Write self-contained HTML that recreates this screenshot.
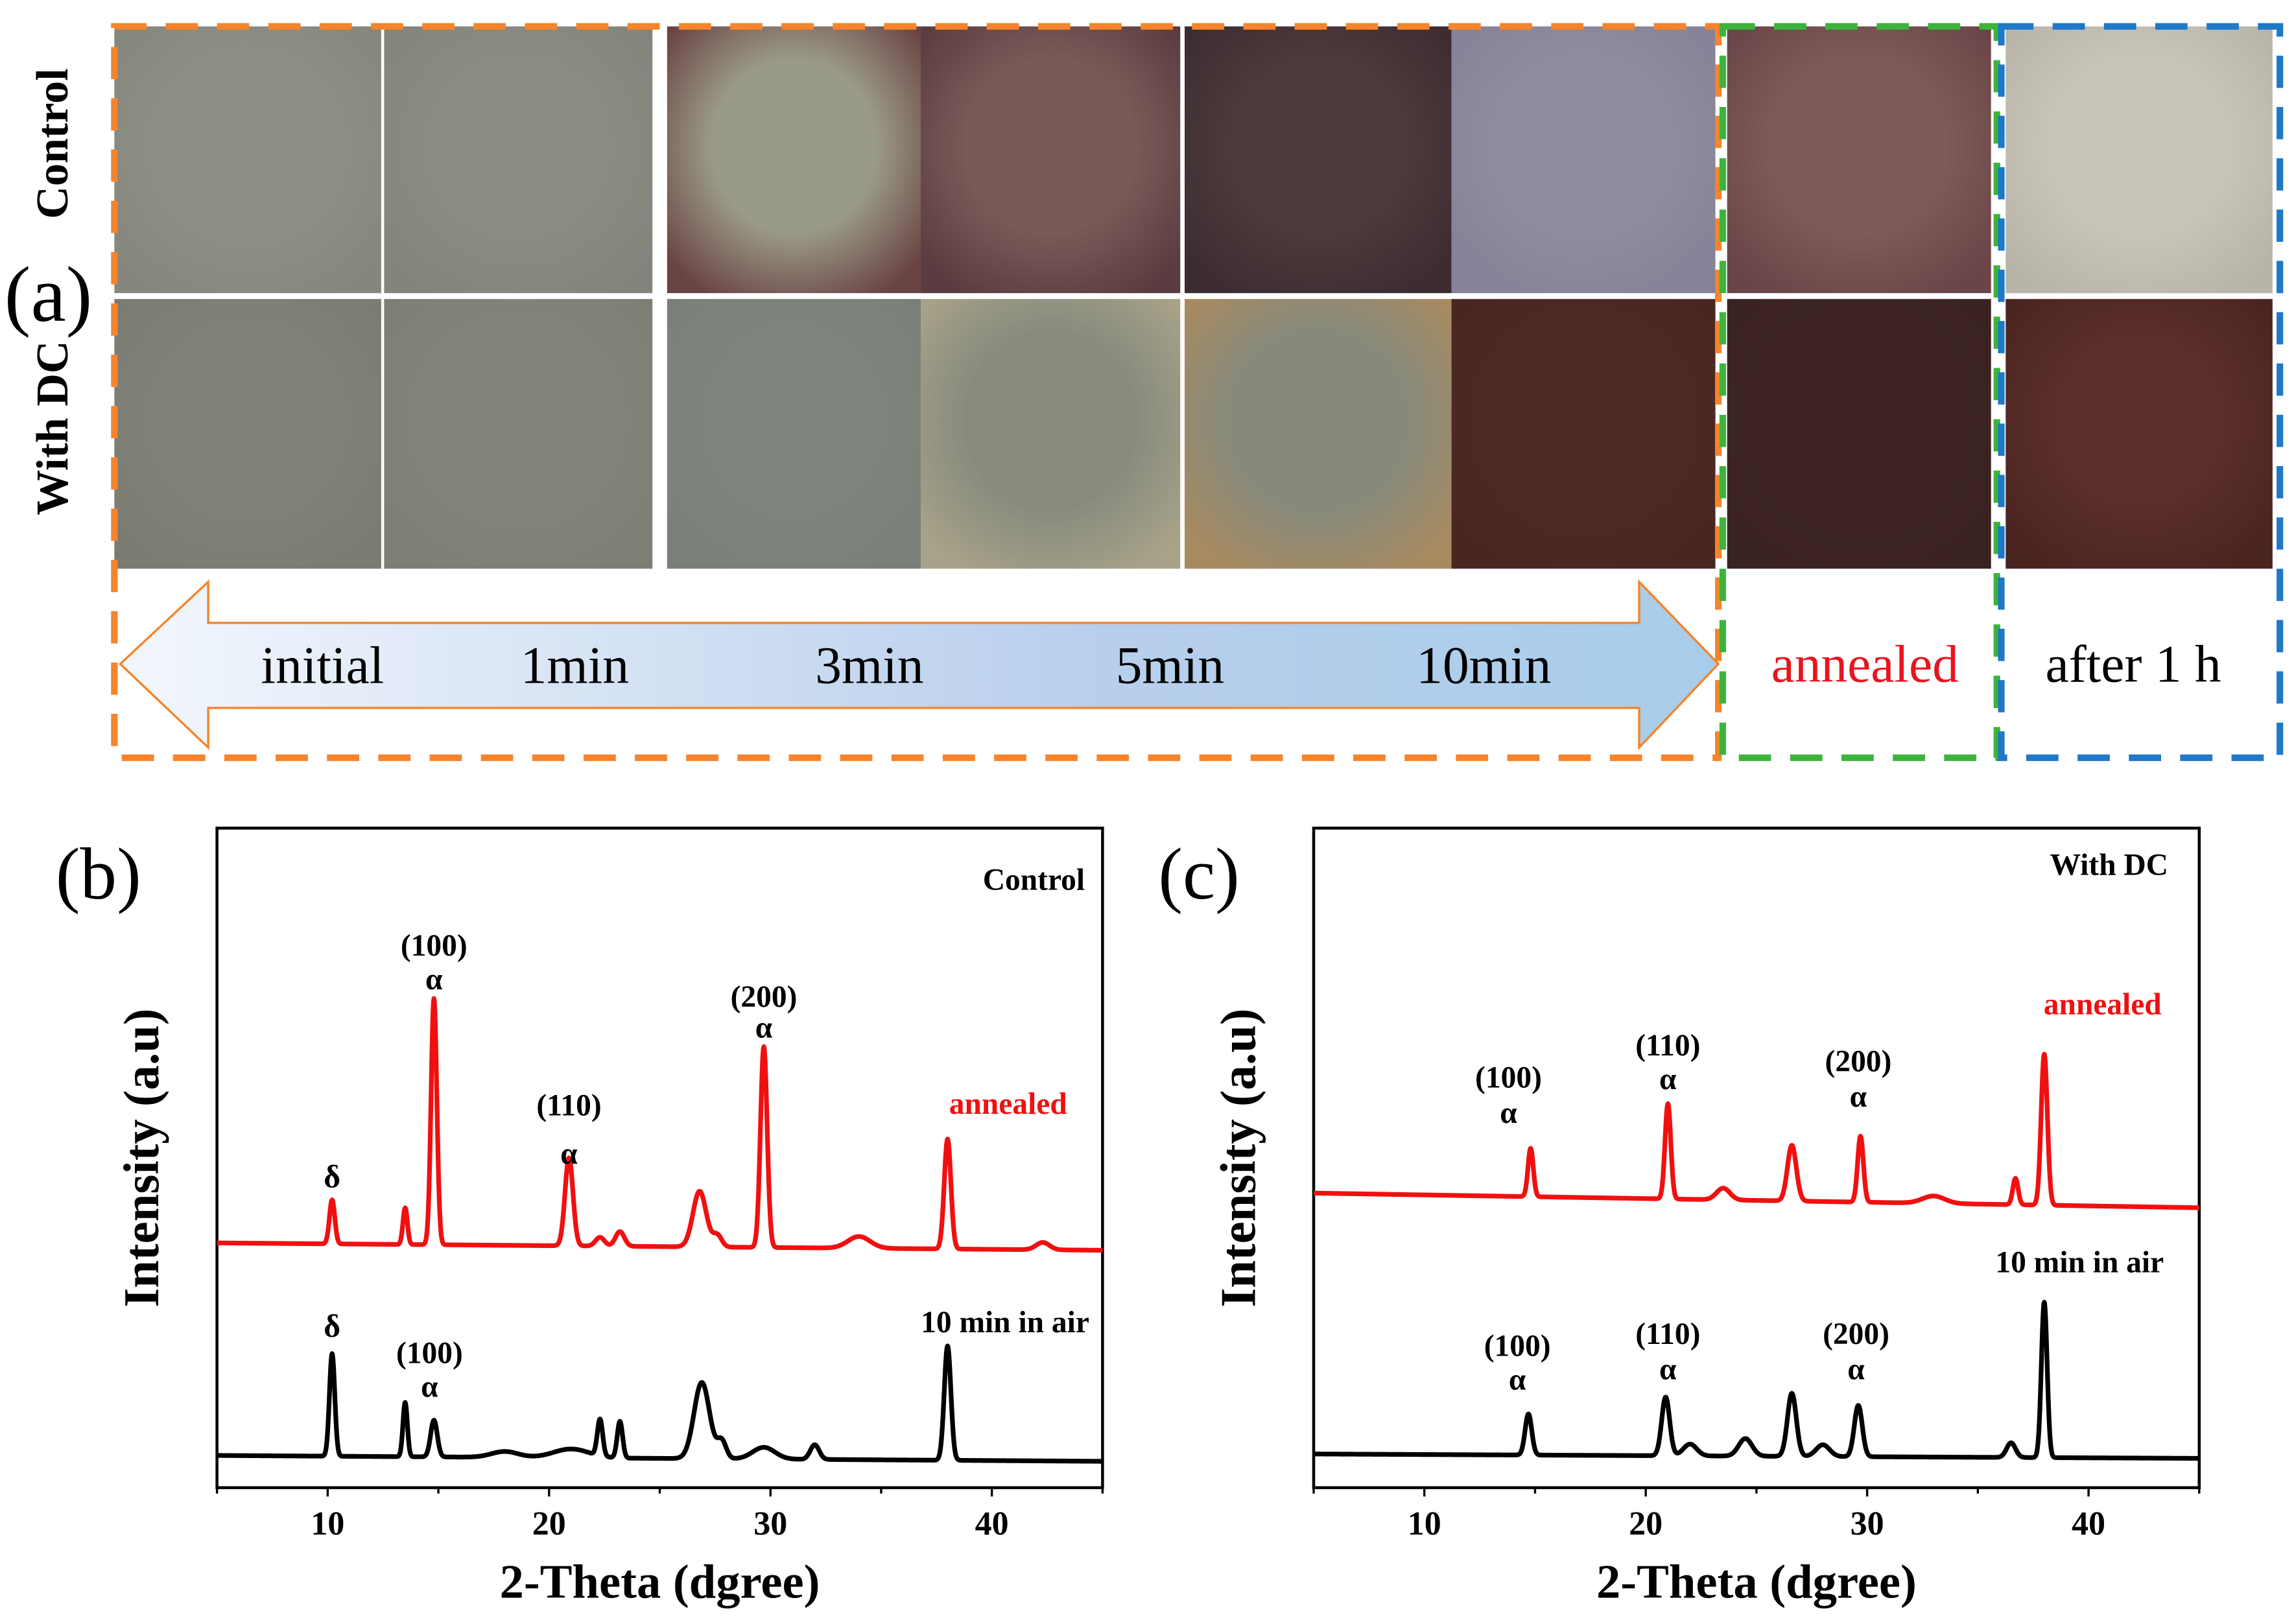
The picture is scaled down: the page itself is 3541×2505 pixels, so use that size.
<!DOCTYPE html>
<html><head><meta charset="utf-8"><style>html,body{margin:0;padding:0;background:#fff}svg{display:block}text{font-family:"Liberation Serif",serif}</style></head>
<body>
<svg id="fig" width="3541" height="2505" viewBox="0 0 1566 1108" preserveAspectRatio="none" xmlns="http://www.w3.org/2000/svg">
<defs>
<linearGradient id="arrowGrad" x1="0" x2="1" y1="0" y2="0"><stop offset="0" stop-color="#f3f7fc"/><stop offset="0.6" stop-color="#b9cfec"/><stop offset="1" stop-color="#a8cdea"/></linearGradient>
</defs>
<g id="panelA"></g>
<g id="panelB"></g>
<g id="panelC"></g>
</svg>
<script>
const NS='http://www.w3.org/2000/svg';
function mk(parent,tag,attrs,txt){const e=document.createElementNS(NS,tag);for(const k in attrs)e.setAttribute(k,attrs[k]);if(txt!==undefined)e.textContent=txt;parent.appendChild(e);return e;}

// ---- Panel (a) photos ----
const photoX=[78,262,455,628,808,990,1178,1368];
const photoW=[182,183,173,177,182,180,180,182];
const topCenter=['#8d8e84','#8a8c82','#9a9a88','#7a5a58','#4c3a3c','#8e8c9c','#7e5a5a','#c8c4ba'];
const topEdge=['#85877e','#82857b','#6a4444','#5a3c40','#3c2c30','#85829a','#6a4446','#b8b4aa'];
const botCenter=['#7f8279','#828579','#7e857c','#878b7e','#868a7c','#4e2a27','#3e2523','#5a2e29'];
const botEdge=['#7a7c72','#7c7f74','#7a8078','#a8a288','#a88a60','#4a2622','#3a2220','#4a2420'];
const pA=document.getElementById('panelA');
const defs=document.querySelector('defs');
for(let i=0;i<8;i++){
  [[topCenter,topEdge,18,182,'top'],[botCenter,botEdge,204,184,'bottom']].forEach(([c,e,y,h,row])=>{
    const gid='g'+row+i;
    const rg=mk(defs,'radialGradient',{id:gid,cx:'0.5',cy:'0.45',r:'0.65'});
    mk(rg,'stop',{offset:'0.5','stop-color':c[i]});
    mk(rg,'stop',{offset:'1','stop-color':e[i]});
    const r=mk(pA,'rect',{x:photoX[i],y:y,width:photoW[i],height:h,fill:'url(#'+gid+')'});
    
    
  });
}
// arrow
const ar=mk(pA,'path',{d:'M82,453 L142,397 L142,425 L1118,425 L1118,397 L1172,453 L1118,510 L1118,483 L142,483 L142,510 Z',fill:'url(#arrowGrad)',stroke:'#f5842c','stroke-width':1.5});


// dashed boxes
[[78,18,1094,499,'#f5842c','orange-box'],[1175,18,187,499,'#3cb43c','green-box'],[1365,18,190,499,'#1f78c8','blue-box']].forEach(b=>{
  const r=mk(pA,'rect',{x:b[0],y:b[1],width:b[2],height:b[3],fill:'none',stroke:b[4],'stroke-width':4.5,'stroke-dasharray':'22,13'});
  
  
});
const timeLabels=['initial','1min','3min','5min','10min'];
const timeX=[220,392,593,798,1012];
timeLabels.forEach((t,i)=>{const e=mk(pA,'text',{x:timeX[i],y:466,'font-size':36,'text-anchor':'middle'},t);});
let e;
e=mk(pA,'text',{x:1272,y:465,'font-size':36,'text-anchor':'middle',fill:'#e8141e'},'annealed');
e=mk(pA,'text',{x:1455,y:465,'font-size':36,'text-anchor':'middle'},'after 1 h');
e=mk(pA,'text',{x:3,y:219,'font-size':54},'(a)');
e=mk(pA,'text',{x:0,y:0,'font-size':31,'font-weight':'bold','text-anchor':'middle',transform:'translate(46,98) rotate(-90)'},'Control');
e=mk(pA,'text',{x:0,y:0,'font-size':31,'font-weight':'bold','text-anchor':'middle',transform:'translate(46,292) rotate(-90)'},'With DC');

// ---- XRD data (peak lists: 2-theta, height, width) ----
const xTicks=[10,20,30,40];
const bAnnealPos=[10.2,13.5,14.8,20.9,22.3,23.2,26.8,27.6,29.7,34,38,42.3];
const bAnnealH=[30,25,168,60,6,10,38,8,137,8,75,5];
const bAnnealW=[0.12,0.1,0.13,0.18,0.2,0.2,0.3,0.2,0.15,0.5,0.15,0.3];
const bAnnealBase=[848,853];
const bAirPos=[10.2,13.5,14.8,18,21,22.3,23.2,26.9,27.8,29.7,32,38];
const bAirH=[70,37,25,4,6,25,25,52,12,8,10,78];
const bAirW=[0.12,0.1,0.15,0.6,0.8,0.12,0.12,0.35,0.2,0.5,0.2,0.15];
const bAirBase=[993,997];
const cAnnealPos=[14.8,21.0,23.5,26.6,29.7,33,36.7,38];
const cAnnealH=[33,65,8,38,45,5,18,103];
const cAnnealW=[0.12,0.13,0.3,0.2,0.13,0.5,0.12,0.14];
const cAnnealBase=[814,824];
const cAirPos=[14.7,20.9,22,24.5,26.6,28,29.6,36.5,38];
const cAirH=[28,40,8,12,43,8,35,10,106];
const cAirW=[0.15,0.18,0.3,0.3,0.2,0.3,0.18,0.2,0.13];
const cAirBase=[992,995];

function drawPanel(g,x0,name,series,annots,title,label,labelX){
  const y0=565,y1=1015,x1=x0+604;
  const xs=v=>x0+(v-5)/40*(x1-x0);
  let r=mk(g,'rect',{x:x0,y:y0,width:x1-x0,height:y1-y0,fill:'none',stroke:'#000','stroke-width':2});
  
  for(let t=5;t<=45;t+=5){
    const tk=mk(g,'line',{x1:xs(t),x2:xs(t),y1:y1,y2:y1+(t%10===0?6:4),stroke:'#000','stroke-width':1.5});
    
  }
  xTicks.forEach(t=>{const l=mk(g,'text',{x:xs(t),y:1047,'font-size':23,'font-weight':'bold','text-anchor':'middle'},t);});
  series.forEach(s=>{
    let d='';
    for(let v=5;v<=45.0001;v+=0.02){
      let y=s.base[0]+(s.base[1]-s.base[0])*(v-5)/40;
      for(let k=0;k<s.pos.length;k++){const z=(v-s.pos[k])/s.w[k];y-=s.h[k]*Math.exp(-0.5*z*z);}
      d+=(d?'L':'M')+xs(v).toFixed(2)+','+y.toFixed(2);
    }
    const p=mk(g,'path',{d:d,fill:'none',stroke:s.color,'stroke-width':3.2,'stroke-linejoin':'round'});
    
  });
  annots.forEach(a=>{const t=mk(g,'text',{x:xs(a[0]),y:a[1],'font-size':a[3]||21,'font-weight':'bold','text-anchor':a[4]||'middle',fill:a[2]||'#000'},a[5]);});
  let t=mk(g,'text',{x:0,y:0,'font-size':34,'font-weight':'bold','text-anchor':'middle',transform:'translate('+(x0-40)+',790) rotate(-90)'},'Intensity (a.u)');
  t=mk(g,'text',{x:(x0+x1)/2,y:1090,'font-size':33,'font-weight':'bold','text-anchor':'middle'},'2-Theta (dgree)');
  t=mk(g,'text',{x:labelX,y:613,'font-size':50},label);
}
drawPanel(document.getElementById('panelB'),148,'panel-b',[
  {pos:bAnnealPos,h:bAnnealH,w:bAnnealW,base:bAnnealBase,color:'#f01010',name:'control-annealed-line'},
  {pos:bAirPos,h:bAirH,w:bAirW,base:bAirBase,color:'#000',name:'control-10min-line'}],
  [[44.2,607,'#000',21,'end','Control'],[10.2,810,'#000',22,'middle','δ'],[14.8,652,'#000',21,'middle','(100)'],[14.8,675,'#000',21,'middle','α'],
   [20.9,761,'#000',21,'middle','(110)'],[20.9,794,'#000',21,'middle','α'],[29.7,687,'#000',21,'middle','(200)'],[29.7,708,'#000',21,'middle','α'],
   [43.4,760,'#f01010',21,'end','annealed'],[10.2,912,'#000',22,'middle','δ'],[14.6,930,'#000',21,'middle','(100)'],[14.6,953,'#000',21,'middle','α'],
   [44.4,909,'#000',21,'end','10 min in air']],'Control','(b)',38);
drawPanel(document.getElementById('panelC'),896,'panel-c',[
  {pos:cAnnealPos,h:cAnnealH,w:cAnnealW,base:cAnnealBase,color:'#f01010',name:'dc-annealed-line'},
  {pos:cAirPos,h:cAirH,w:cAirW,base:cAirBase,color:'#000',name:'dc-10min-line'}],
  [[43.6,597,'#000',21,'end','With DC'],[13.8,742,'#000',21,'middle','(100)'],[13.8,766,'#000',21,'middle','α'],[21,720,'#000',21,'middle','(110)'],[21,743,'#000',21,'middle','α'],
   [29.6,731,'#000',21,'middle','(200)'],[29.6,755,'#000',21,'middle','α'],[43.3,692,'#f01010',21,'end','annealed'],
   [43.4,868,'#000',21,'end','10 min in air'],[14.2,925,'#000',21,'middle','(100)'],[14.2,948,'#000',21,'middle','α'],[21,917,'#000',21,'middle','(110)'],[21,941,'#000',21,'middle','α'],
   [29.5,917,'#000',21,'middle','(200)'],[29.5,941,'#000',21,'middle','α']],'With DC','(c)',790);
</script>
</body></html>
